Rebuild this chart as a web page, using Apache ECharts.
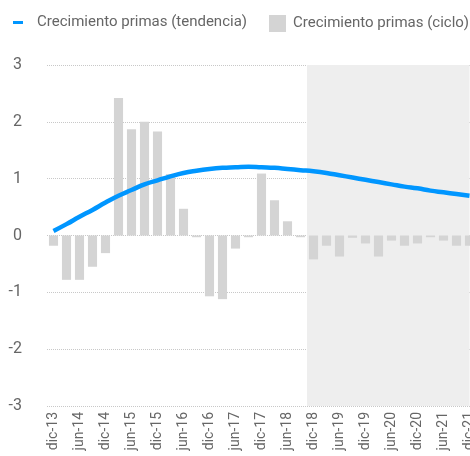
<!DOCTYPE html>
<html>
<head>
<meta charset="utf-8">
<script src="https://cdn.jsdelivr.net/npm/echarts@6/dist/echarts.min.js"></script>
<style>
	html, body { margin: 0; padding: 0; background: #fff; overflow: hidden; }
	#chart { width: 476px; height: 456px; }
</style>
</head>
<body>
<div id="chart"></div>
<script>
var categories = [
	"dic-13", "mar-14", "jun-14", "sep-14", "dic-14", "mar-15", "jun-15", "sep-15", "dic-15",
	"mar-16", "jun-16", "sep-16", "dic-16", "mar-17", "jun-17", "sep-17", "dic-17",
	"mar-18", "jun-18", "sep-18", "dic-18", "mar-19", "jun-19", "sep-19", "dic-19",
	"mar-20", "jun-20", "sep-20", "dic-20", "mar-21", "jun-21", "sep-21", "dic-21"
];

var tendencia = [
	0.08, 0.2, 0.33, 0.45, 0.58, 0.7, 0.8, 0.9, 0.97,
	1.04, 1.1, 1.14, 1.17, 1.19, 1.2, 1.21, 1.2,
	1.19, 1.17, 1.15, 1.13, 1.1, 1.06, 1.02, 0.98,
	0.94, 0.9, 0.86, 0.83, 0.79, 0.76, 0.73, 0.7
];

var ciclo = [
	-0.18, -0.78, -0.78, -0.55, -0.31, 2.42, 1.87, 2.0, 1.83,
	1.08, 0.47, -0.03, -1.07, -1.12, -0.23, -0.03, 1.09,
	0.62, 0.25, -0.03, -0.42, -0.18, -0.37, -0.04, -0.14,
	-0.37, -0.09, -0.18, -0.14, -0.03, -0.09, -0.18, -0.18
];

var shadeFrom = "dic-18";
var shadeTo = "dic-21";

var font = "Roboto";
var grey = "#666666";

var chart = echarts.init(document.getElementById("chart"));
chart.setOption({
	animation: false,
	textStyle: { fontFamily: font },
	legend: [{
		data: ["Crecimiento primas (tendencia)"],
		left: 8,
		top: 10,
		icon: "rect",
		itemWidth: 10,
		itemHeight: 3,
		textStyle: { fontSize: 15, color: grey, padding: [0, 0, 0, 9] }
	}, {
		data: ["Crecimiento primas (ciclo)"],
		left: 264,
		top: 10,
		icon: "rect",
		itemWidth: 17,
		itemHeight: 17,
		textStyle: { fontSize: 15, color: grey, padding: [0, 0, 0, 2] }
	}],
	grid: {
		left: 47,
		right: 0,
		top: 65,
		bottom: 50,
		containLabel: false,
		outerBoundsMode: "none"
	},
	xAxis: {
		type: "category",
		data: categories,
		axisLine: { show: false, onZero: false },
		axisTick: { show: false },
		axisLabel: {
			rotate: 90,
			interval: 1,
			fontSize: 14,
			color: grey,
			margin: 6
		}
	},
	yAxis: {
		type: "value",
		min: -3,
		max: 3,
		interval: 1,
		axisLine: { show: false },
		axisTick: { show: false },
		axisLabel: { fontSize: 16, color: grey, margin: 25 },
		splitLine: { lineStyle: { type: "dotted", color: "#c8c8c8", width: 1 } }
	},
	series: [{
		name: "Crecimiento primas (ciclo)",
		type: "bar",
		data: ciclo,
		barCategoryGap: "30%",
		itemStyle: { color: "#d4d4d4" },
		markArea: {
			silent: true,
			itemStyle: { color: "#eeeeee" },
			data: [[{ xAxis: shadeFrom }, { xAxis: shadeTo }]]
		},
		z: 2
	}, {
		name: "Crecimiento primas (tendencia)",
		type: "line",
		data: tendencia,
		smooth: true,
		showSymbol: false,
		symbol: "none",
		lineStyle: { width: 4.5, color: "#0096ff" },
		itemStyle: { color: "#0096ff" },
		z: 3
	}]
});
</script>
</body>
</html>
